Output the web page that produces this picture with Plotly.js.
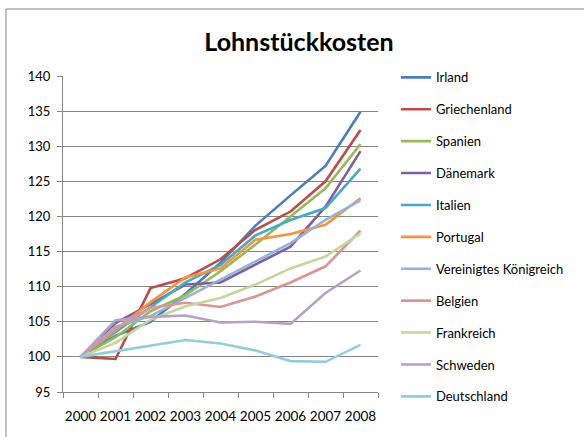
<!DOCTYPE html>
<html><head><meta charset="utf-8">
<script src="https://cdn.plot.ly/plotly-3.0.1.min.js"></script>
<style>html,body{margin:0;padding:0;background:#fff}</style>
</head><body>
<div id="chart" style="width:584px;height:437px"></div>
<script>
const years = ["2000","2001","2002","2003","2004","2005","2006","2007","2008"];
const countries = ["Irland","Griechenland","Spanien","Dänemark","Italien","Portugal","Vereinigtes Königreich","Belgien","Frankreich","Schweden","Deutschland"];
const irland        = [100, 103.0, 105.0, 109.0, 113.4, 118.7, 123.0, 127.2, 134.9];
const griechenland  = [100,  99.7, 109.8, 111.2, 113.9, 118.1, 120.7, 125.0, 132.3];
const spanien       = [100, 102.8, 106.5, 108.8, 112.2, 116.0, 120.0, 124.0, 130.3];
const daenemark     = [100, 104.8, 107.5, 110.3, 110.6, 113.1, 115.7, 121.4, 129.3];
const italien       = [100, 103.5, 107.0, 110.6, 113.1, 117.3, 119.5, 121.2, 126.8];
const portugal      = [100, 103.8, 107.8, 111.3, 112.6, 116.7, 117.5, 118.8, 122.6];
const vereinigtesKR = [100, 104.3, 105.8, 108.4, 110.9, 113.6, 116.2, 119.5, 122.3];
const belgien       = [100, 104.0, 107.0, 107.7, 107.1, 108.6, 110.6, 112.9, 118.0];
const frankreich    = [100, 102.0, 105.3, 107.2, 108.4, 110.3, 112.6, 114.3, 117.6];
const schweden      = [100, 105.2, 105.7, 105.9, 104.9, 105.0, 104.7, 109.1, 112.3];
const deutschland   = [100, 100.8, 101.5, 102.4, 101.9, 100.9,  99.4,  99.3, 101.7];
const seriesValues = [irland, griechenland, spanien, daenemark, italien, portugal, vereinigtesKR, belgien, frankreich, schweden, deutschland];
const colors = ["#4A7EBB","#BE4B48","#98B954","#7D60A0","#46AAC5","#F69240","#95B3D7","#D99694","#C3D69B","#B3A2C7","#93CDDD"];

const FONT = "Lato, 'Open Sans', sans-serif";
const traces = countries.map((c, i) => ({
  type: "scatter", mode: "lines", name: c, x: years, y: seriesValues[i],
  line: {color: colors[i], width: 2.6}, legendgroup: "g" + i
}));

const layout = {
  width: 584, height: 437,
  margin: {l: 63, r: 206, t: 76, b: 45},
  paper_bgcolor: "#fff", plot_bgcolor: "#fff",
  font: {family: FONT, size: 13, color: "#000"},
  title: {text: "<b>Lohnstückkosten</b>", font: {family: FONT, size: 25, color: "#000"},
          xref: "container", x: 0.512, xanchor: "center", yref: "container", y: 0.904, yanchor: "middle"},
  xaxis: {type: "category", range: [-0.5, 8.5], tickson: "boundaries", ticks: "outside", ticklen: 5,
          tickangle: 0, ticklabelstandoff: 12, tickcolor: "#868686", showline: true, linecolor: "#868686",
          linewidth: 1, showgrid: false, tickfont: {family: FONT, size: 13.5}, fixedrange: true},
  yaxis: {range: [95, 140], dtick: 5, tick0: 95, ticks: "outside", ticklen: 5, tickcolor: "#868686",
          ticklabelstandoff: 4,
          showline: true, linecolor: "#868686", linewidth: 1, showgrid: true, gridcolor: "#868686",
          gridwidth: 1, zeroline: false, tickfont: {family: FONT, size: 13}, fixedrange: true},
  showlegend: true,
  legend: {x: 1.057, xanchor: "left", y: 1.043, yanchor: "top", traceorder: "grouped",
           tracegroupgap: 12, maxheight: 430, font: {family: FONT, size: 13}, bgcolor: "rgba(0,0,0,0)", itemwidth: 30},
  shapes: [{type: "rect", xref: "paper", yref: "paper", x0: -0.181, x1: 1.9, y0: -0.3, y1: 1.212,
            line: {color: "#868686", width: 1}, fillcolor: "rgba(0,0,0,0)", layer: "below"}]
};
Plotly.newPlot("chart", traces, layout, {displayModeBar: false, staticPlot: true});
</script>
</body></html>
